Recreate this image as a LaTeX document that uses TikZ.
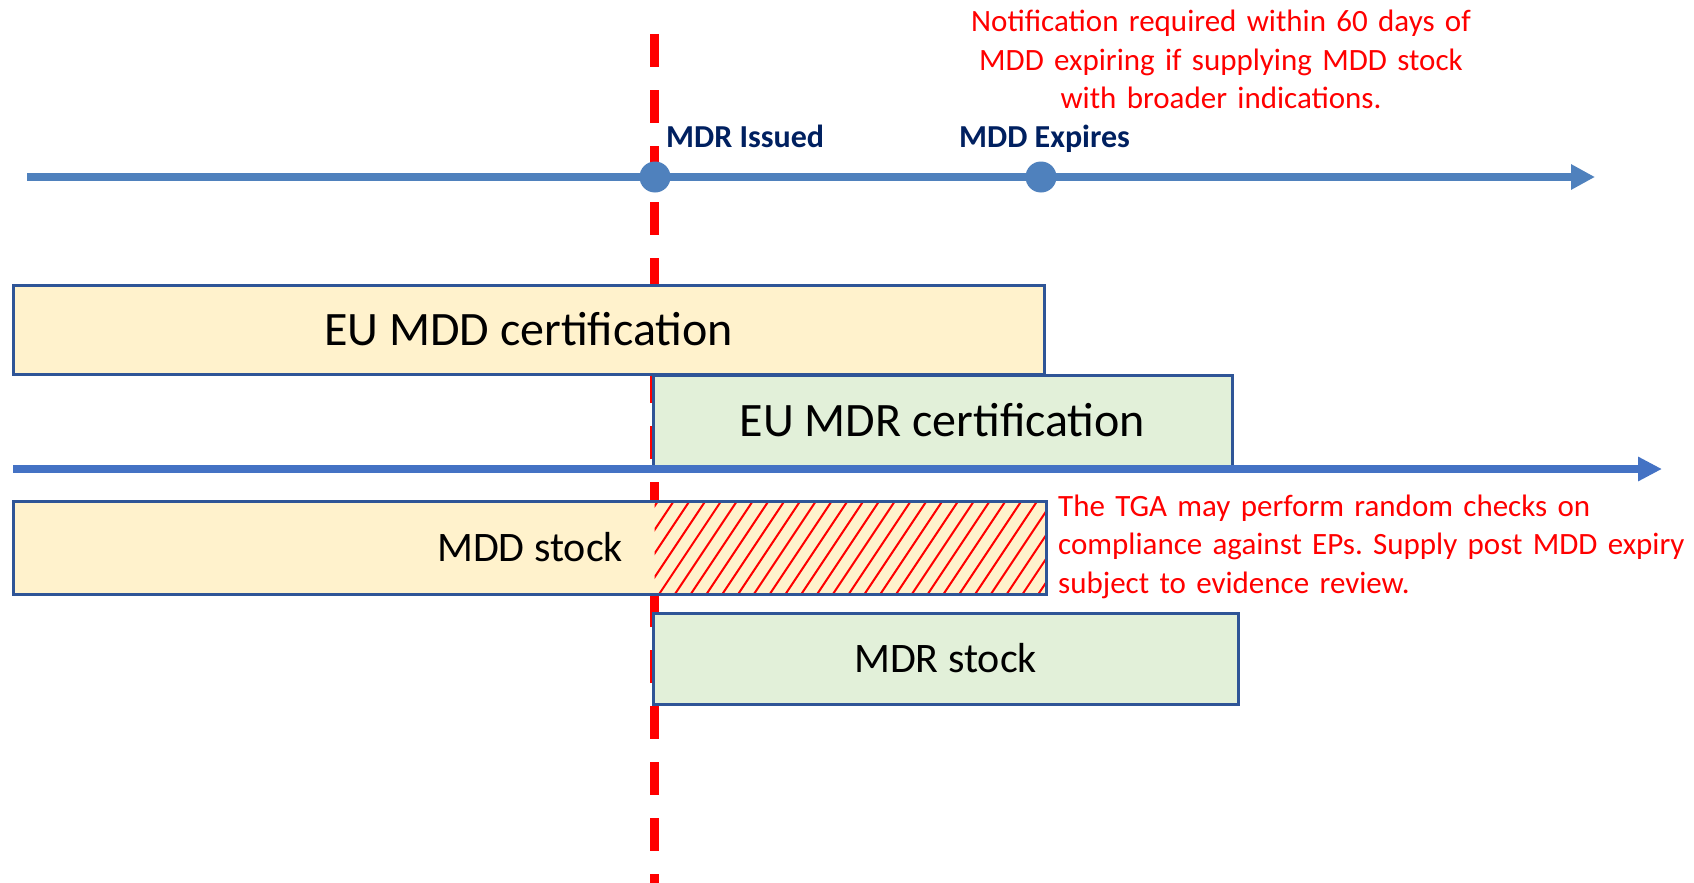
\documentclass[tikz,border=0pt]{standalone}
\usepackage{fontspec}
\setmainfont{Carlito}
\usetikzlibrary{arrows.meta}
\definecolor{tlblue}{HTML}{4F81BD}
\definecolor{midblue}{HTML}{4472C4}
\definecolor{navy}{HTML}{002060}
\definecolor{boxborder}{HTML}{2F5597}
\definecolor{mddfill}{HTML}{FFF2CC}
\definecolor{mdrfill}{HTML}{E2F0D9}
\definecolor{alert}{HTML}{FF0000}
\frenchspacing
\tikzset{
  bar/.style={draw=boxborder, line width=3pt, rectangle, inner sep=0pt, font=\fontsize{48}{58}\selectfont},
  mddbar/.style={bar, fill=mddfill},
  mdrbar/.style={bar, fill=mdrfill},
  stockfont/.style={font=\fontsize{42}{50}\selectfont},
  milestone/.style={circle, fill=tlblue, minimum size=31pt, inner sep=0pt},
  mslabel/.style={font=\bfseries\fontsize{32}{38.5}\selectfont, text=navy, inner sep=0pt, anchor=base west},
  note/.style={font=\fontsize{31}{38.5}\selectfont\frenchspacing, text=alert, inner sep=0pt},
  timeline/.style={line width=8pt},
  issueline/.style={draw=alert, line width=8.5pt, dash pattern=on 33pt off 23pt},
  hatchline/.style={draw=alert, line width=2pt},
}
\begin{document}
\begin{tikzpicture}[x=1pt,y=-1pt]
\useasboundingbox[fill=white] (0,0) rectangle (1694,883);
% vertical MDR issued line
\coordinate (dtop) at (654.5,34);
\coordinate (dbot) at (654.5,883);
\draw[issueline] (dtop) -- (dbot);
% top timeline
\coordinate (t1s) at (27,177);
\coordinate (t1e) at (1595,177);
\draw[timeline, tlblue, -{Triangle[length=24pt,width=24pt]}] (t1s) -- (t1e);
\node[milestone] (mdr) at (655,177) {};
\node[milestone] (mdd) at (1041,177) {};
\node[mslabel] (mdrlbl) at (666,147) {MDR Issued};
\node[mslabel] (mddlbl) at (959,147) {MDD Expires};
\node[note, text width=600pt, align=center, anchor=base] (notif) at (1221,32)
  {Notification required within 60 days of\\MDD expiring if supplying MDD stock\\with broader indications.};
% certification bars
\node[mddbar, minimum width=1031pt, minimum height=89pt] (mddcert) at (528.5,329.5) {EU MDD certification};
\node[mdrbar, minimum width=579pt, minimum height=91pt] (mdrcert) at (942.5,420.5) {EU MDR certification};
% middle timeline
\coordinate (t2s) at (13,469);
\coordinate (t2e) at (1662,469);
\draw[timeline, midblue, -{Triangle[length=24pt,width=23pt]}] (t2s) -- (t2e);
% MDD stock with hatching
\node[bar, fill=mddfill, draw=none, outer sep=0pt, stockfont, minimum width=1033pt, minimum height=93pt] (mddstock) at (530,547.5) {MDD stock};
\begin{scope}
  \clip (654.5,501) rectangle (mddstock.south east);
  \foreach \k in {0,...,30} {
    \draw[hatchline] ({658+15.8*\k+10},486) -- ({658+15.8*\k-72},609);
  }
\end{scope}
\draw[boxborder, line width=3pt] (mddstock.north west) rectangle (mddstock.south east);
\node[note, text width=720pt, align=left, anchor=base west] (tga) at (1058,516)
  {The TGA may perform random checks on\\compliance against EPs. Supply post MDD expiry\\subject to evidence review.};
% MDR stock
\node[mdrbar, stockfont, minimum width=585pt, minimum height=91pt] (mdrstock) at (945.5,658.5) {MDR stock};
\end{tikzpicture}
\end{document}
